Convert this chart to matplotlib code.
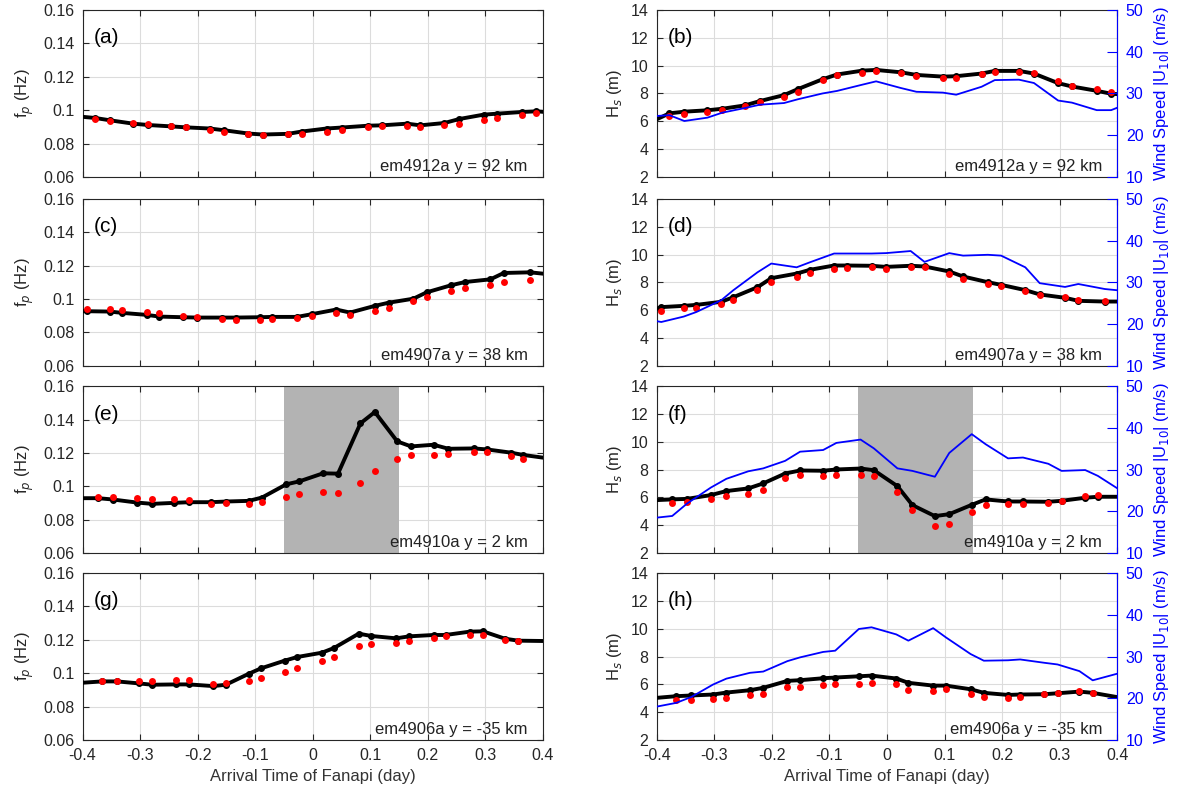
import numpy as np
import matplotlib
matplotlib.use("Agg")
import matplotlib.pyplot as plt
from matplotlib.ticker import FuncFormatter

plt.rcParams['font.family'] = ['Liberation Sans', 'DejaVu Sans']

# station labels / panel letters
stations = ["em4912a y = 92 km", "em4907a y = 38 km", "em4910a y = 2 km", "em4906a y = -35 km"]
left_tags = ["(a)", "(c)", "(e)", "(g)"]
right_tags = ["(b)", "(d)", "(f)", "(h)"]

# sample times (day) for each station
t_4912 = [-0.378, -0.352, -0.312, -0.286, -0.247, -0.221, -0.179, -0.155, -0.112, -0.087, -0.043, -0.019,
          0.024, 0.051, 0.097, 0.120, 0.164, 0.187, 0.229, 0.255, 0.297, 0.321, 0.364, 0.389]
t_4907 = [-0.392, -0.353, -0.331, -0.288, -0.267, -0.225, -0.201, -0.157, -0.134, -0.092, -0.070, -0.027,
          -0.002, 0.041, 0.065, 0.108, 0.132, 0.175, 0.198, 0.240, 0.265, 0.309, 0.332, 0.378]
t_4910 = [-0.373, -0.347, -0.306, -0.279, -0.241, -0.215, -0.177, -0.151, -0.111, -0.088, -0.046, -0.023,
          0.018, 0.044, 0.083, 0.108, 0.147, 0.171, 0.210, 0.236, 0.280, 0.303, 0.344, 0.366]
t_4906 = [-0.366, -0.340, -0.302, -0.279, -0.238, -0.215, -0.173, -0.151, -0.111, -0.090, -0.049, -0.027,
          0.016, 0.037, 0.080, 0.102, 0.145, 0.168, 0.210, 0.231, 0.273, 0.296, 0.334, 0.357]

# peak frequency (Hz): black = model line (edge values first/last), red = second estimate
fp_black_4912 = [0.0960, 0.0953, 0.0939, 0.0919, 0.0911, 0.0903, 0.0897, 0.0890, 0.0880, 0.0860, 0.0854, 0.0858, 0.0872,
                 0.0890, 0.0896, 0.0907, 0.0909, 0.0919, 0.0909, 0.0923, 0.0947, 0.0973, 0.0979, 0.0989, 0.0993, 0.0990]
fp_red_4912 = [0.0947, 0.0933, 0.0923, 0.0917, 0.0907, 0.0900, 0.0884, 0.0872, 0.0858, 0.0852, 0.0858, 0.0860,
               0.0872, 0.0882, 0.0900, 0.0904, 0.0907, 0.0901, 0.0911, 0.0919, 0.0943, 0.0955, 0.0971, 0.0981]
fp_black_4907 = [0.0927, 0.0927, 0.0925, 0.0917, 0.0905, 0.0895, 0.0891, 0.0889, 0.0889, 0.0889, 0.0891, 0.0893, 0.0893,
                 0.0909, 0.0937, 0.0919, 0.0959, 0.0978, 0.1002, 0.1040, 0.1082, 0.1102, 0.1118, 0.1156, 0.1160, 0.1152]
fp_red_4907 = [0.0943, 0.0939, 0.0935, 0.0925, 0.0917, 0.0901, 0.0895, 0.0881, 0.0877, 0.0875, 0.0881, 0.0885,
               0.0897, 0.0915, 0.0907, 0.0929, 0.0947, 0.0986, 0.1010, 0.1050, 0.1066, 0.1086, 0.1102, 0.1112]
fp_black_4910 = [0.0929, 0.0929, 0.0921, 0.0903, 0.0895, 0.0901, 0.0905, 0.0905, 0.0909, 0.0913, 0.0933, 0.1012, 0.1030,
                 0.1078, 0.1076, 0.1377, 0.1445, 0.1269, 0.1239, 0.1249, 0.1225, 0.1227, 0.1221, 0.1202, 0.1188, 0.1172]
fp_red_4910 = [0.0939, 0.0935, 0.0931, 0.0923, 0.0925, 0.0919, 0.0897, 0.0899, 0.0897, 0.0909, 0.0939, 0.0953,
               0.0967, 0.0961, 0.1018, 0.1094, 0.1166, 0.1186, 0.1190, 0.1194, 0.1208, 0.1206, 0.1184, 0.1166]
fp_black_4906 = [0.0943, 0.0951, 0.0951, 0.0939, 0.0931, 0.0933, 0.0933, 0.0923, 0.0931, 0.0997, 0.1029, 0.1075, 0.1097,
                 0.1123, 0.1151, 0.1237, 0.1223, 0.1209, 0.1221, 0.1229, 0.1229, 0.1249, 0.1251, 0.1207, 0.1195, 0.1193]
fp_red_4906 = [0.0955, 0.0953, 0.0953, 0.0953, 0.0957, 0.0961, 0.0937, 0.0939, 0.0953, 0.0969, 0.1007, 0.1033,
               0.1073, 0.1097, 0.1165, 0.1177, 0.1179, 0.1191, 0.1213, 0.1223, 0.1229, 0.1227, 0.1199, 0.1191]

# significant wave height (m)
hs_black_4912 = [6.14, 6.57, 6.69, 6.79, 6.90, 7.14, 7.45, 7.88, 8.31, 9.02, 9.36, 9.64, 9.69,
                 9.52, 9.33, 9.21, 9.24, 9.43, 9.62, 9.62, 9.43, 8.74, 8.50, 8.19, 7.98, 7.95]
hs_red_4912 = [6.38, 6.50, 6.67, 6.81, 7.07, 7.36, 7.74, 8.14, 8.98, 9.29, 9.50, 9.60,
               9.48, 9.26, 9.10, 9.14, 9.38, 9.57, 9.57, 9.45, 8.86, 8.57, 8.29, 8.07]
hs_black_4907 = [6.10, 6.22, 6.31, 6.38, 6.60, 6.93, 7.65, 8.30, 8.63, 8.90, 9.21, 9.21, 9.19,
                 9.11, 9.19, 9.14, 8.78, 8.42, 8.01, 7.82, 7.44, 7.13, 6.89, 6.67, 6.62, 6.62]
hs_red_4907 = [5.95, 6.14, 6.19, 6.46, 6.74, 7.44, 8.04, 8.37, 8.68, 8.97, 9.00, 9.07,
               8.95, 9.07, 9.07, 8.63, 8.23, 7.87, 7.72, 7.39, 7.10, 6.93, 6.72, 6.67]
hs_black_4910 = [5.81, 5.86, 5.90, 6.17, 6.46, 6.65, 7.01, 7.72, 7.94, 7.92, 8.01, 8.08, 7.96,
                 6.81, 5.45, 4.66, 4.80, 5.47, 5.86, 5.71, 5.71, 5.69, 5.76, 5.98, 6.05, 6.05]
hs_red_4910 = [5.59, 5.66, 5.88, 6.10, 6.24, 6.57, 7.37, 7.58, 7.51, 7.60, 7.65, 7.53,
               6.38, 5.09, 3.96, 4.06, 4.95, 5.47, 5.50, 5.50, 5.62, 5.71, 6.07, 6.17]
hs_black_4906 = [5.03, 5.15, 5.20, 5.27, 5.41, 5.58, 5.75, 6.25, 6.30, 6.44, 6.49, 6.58, 6.63,
                 6.42, 6.11, 5.91, 5.91, 5.65, 5.39, 5.24, 5.27, 5.29, 5.36, 5.48, 5.39, 5.08]
hs_red_4906 = [4.91, 4.91, 4.93, 5.03, 5.20, 5.34, 5.82, 5.84, 5.94, 6.03, 6.06, 6.13,
               5.99, 5.63, 5.51, 5.65, 5.34, 5.12, 5.05, 5.12, 5.34, 5.41, 5.51, 5.41]

# wind speed |U10| (m/s), edge values first/last
wind_4912 = [24.6, 24.8, 23.4, 24.2, 25.4, 26.5, 27.3, 27.7, 28.6, 30.0, 30.6, 32.1, 32.9,
             31.3, 30.4, 30.2, 29.7, 31.6, 33.2, 33.3, 32.5, 28.3, 27.8, 26.0, 26.0, 26.6]
wind_4907 = [20.7, 20.5, 21.8, 22.9, 25.7, 28.1, 32.4, 34.5, 33.6, 34.8, 36.9, 36.9, 36.9,
             37.0, 37.5, 34.9, 37.0, 36.4, 36.6, 36.4, 33.6, 29.8, 28.9, 29.6, 28.4, 28.1]
wind_4910 = [18.5, 18.9, 21.9, 25.7, 27.8, 29.6, 30.3, 32.1, 34.3, 34.7, 36.4, 37.2, 35.1,
             30.3, 29.7, 28.3, 34.0, 38.5, 36.1, 32.7, 32.9, 31.4, 29.7, 29.9, 28.5, 25.5]
wind_4906 = [18.0, 18.9, 20.3, 23.3, 24.7, 26.1, 26.4, 28.9, 29.8, 31.1, 31.4, 36.6, 37.0,
             35.3, 33.8, 36.8, 34.6, 30.6, 29.0, 29.1, 29.3, 28.5, 28.1, 26.5, 24.3, 25.9]

times = [t_4912, t_4907, t_4910, t_4906]
fp_black = [fp_black_4912, fp_black_4907, fp_black_4910, fp_black_4906]
fp_red = [fp_red_4912, fp_red_4907, fp_red_4910, fp_red_4906]
hs_black = [hs_black_4912, hs_black_4907, hs_black_4910, hs_black_4906]
hs_red = [hs_red_4912, hs_red_4907, hs_red_4910, hs_red_4906]
wind = [wind_4912, wind_4907, wind_4910, wind_4906]

shade_row = 2
shade_span = (-0.05, 0.15)

fig = plt.figure(figsize=(11.8, 7.97), dpi=100)

bottoms = [0.778, 0.541, 0.306, 0.0715]
h = 0.2095
axc = '#262626'
blue = '#0000ff'
grid_c = '#dcdcdc'
fs_tick = 11.5
fs_lab = 12


def fmt(v, p):
    return '%g' % (round(v, 2) + 0.0)


def style(ax):
    ax.set_xlim(-0.4, 0.4)
    ax.set_xticks(np.arange(-0.4, 0.41, 0.1))
    ax.grid(True, color=grid_c, lw=0.8)
    ax.set_axisbelow(True)
    ax.tick_params(direction='in', length=4, labelsize=fs_tick, colors=axc, top=True)
    ax.tick_params(axis='x', pad=6)
    ax.tick_params(axis='y', pad=6)
    for s in ax.spines.values():
        s.set_color(axc)
        s.set_linewidth(0.8)
    ax.xaxis.set_major_formatter(FuncFormatter(fmt))


for i in range(4):
    t = times[i]
    t_line = [-0.4] + t + [0.4]

    # ---- left: peak frequency
    ax = fig.add_axes([0.070, bottoms[i], 0.390, h])
    style(ax)
    ax.tick_params(right=True)
    ax.set_ylim(0.06, 0.16)
    ax.set_yticks([0.06, 0.08, 0.1, 0.12, 0.14, 0.16])
    ax.yaxis.set_major_formatter(FuncFormatter(fmt))
    if i == shade_row:
        ax.axvspan(*shade_span, color='#b3b3b3', lw=0, zorder=1)
    ax.plot(t_line, fp_black[i], '-', color='k', lw=2.8, zorder=3)
    ax.plot(t, fp_black[i][1:-1], 'o', color='k', ms=4, zorder=3)
    ax.plot(t, fp_red[i], 'o', color='#ff0000', ms=5, mec='none', zorder=4)
    ax.set_ylabel('f$_p$ (Hz)', fontsize=fs_lab, color=axc, labelpad=5)
    ax.text(0.024, 0.80, left_tags[i], transform=ax.transAxes, fontsize=15, color='k', va='baseline')
    ax.text(0.967, 0.035, stations[i], transform=ax.transAxes, fontsize=12, ha='right',
            va='baseline', color='#222222', zorder=5)
    if i < 3:
        ax.set_xticklabels([])
    else:
        ax.set_xlabel('Arrival Time of Fanapi (day)', fontsize=fs_lab, color='#333333')

    # ---- right: wave height + wind
    ax2 = fig.add_axes([0.5565, bottoms[i], 0.3905, h])
    style(ax2)
    ax2.set_ylim(2, 14)
    ax2.set_yticks(np.arange(2, 15, 2))
    if i == shade_row:
        ax2.axvspan(*shade_span, color='#b3b3b3', lw=0, zorder=1)
    ax2.plot(t_line, hs_black[i], '-', color='k', lw=2.8, zorder=3)
    ax2.plot(t, hs_black[i][1:-1], 'o', color='k', ms=4, zorder=3)
    ax2.plot(t, hs_red[i], 'o', color='#ff0000', ms=5, mec='none', zorder=4)
    ax2.set_ylabel('H$_s$ (m)', fontsize=fs_lab, color=axc, labelpad=5)
    ax2.text(0.024, 0.80, right_tags[i], transform=ax2.transAxes, fontsize=15, color='k', va='baseline')
    ax2.text(0.967, 0.035, stations[i], transform=ax2.transAxes, fontsize=12, ha='right',
             va='baseline', color='#222222', zorder=5)
    if i < 3:
        ax2.set_xticklabels([])
    else:
        ax2.set_xlabel('Arrival Time of Fanapi (day)', fontsize=fs_lab, color='#333333')

    tw = ax2.twinx()
    tw.set_xlim(-0.4, 0.4)
    tw.set_ylim(10, 50)
    tw.set_yticks([10, 20, 30, 40, 50])
    tw.plot(t_line, wind[i], '-', color=blue, lw=1.3)
    tw.tick_params(direction='in', length=7, labelsize=fs_tick, colors=blue, pad=6)
    tw.spines['right'].set_color(blue)
    for s in ['left', 'top', 'bottom']:
        tw.spines[s].set_visible(False)
    tw.set_ylabel('Wind Speed |U$_{10}$| (m/s)', fontsize=fs_lab, color=blue, labelpad=6)

fig.savefig('out.png', dpi=100)
